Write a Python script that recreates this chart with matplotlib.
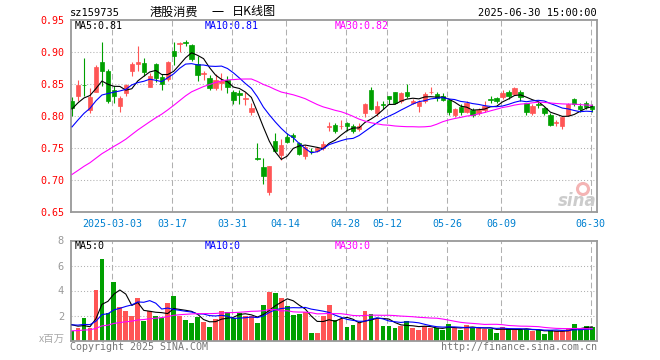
import numpy as np
import pandas as pd
import matplotlib
matplotlib.use("Agg")
import matplotlib.pyplot as plt
import matplotlib.patches as mpatches

# trading calendar (Shenzhen), holidays removed
holidays = ["2025-04-04", "2025-05-01", "2025-05-02", "2025-05-05", "2025-06-02"]
days = pd.bdate_range("2025-02-20", "2025-06-30")
days = days[~days.isin(pd.to_datetime(holidays))]

tick_dates = ["2025-03-03", "2025-03-17", "2025-03-31", "2025-04-14", "2025-04-28",
              "2025-05-12", "2025-05-26", "2025-06-09", "2025-06-30"]
tick_labels = ["2025-03-03", "03-17", "03-31", "04-14", "04-28",
               "05-12", "05-26", "06-09", "06-30"]

# daily prices
opens = [0.824, 0.832, 0.849, 0.810, 0.838, 0.885, 0.870, 0.840, 0.815, 0.836,
         0.870, 0.881, 0.883, 0.846, 0.881, 0.861, 0.858, 0.901, 0.913, 0.915,
         0.911, 0.882, 0.865, 0.859, 0.843, 0.852, 0.856, 0.838, 0.836, 0.826,
         0.806, 0.734, 0.720, 0.682, 0.761, 0.739, 0.767, 0.770, 0.758, 0.738,
         0.746, 0.746, 0.750, 0.783, 0.786, 0.784, 0.789, 0.785, 0.779, 0.805,
         0.840, 0.805, 0.818, 0.832, 0.838, 0.823, 0.837, 0.820, 0.815, 0.824,
         0.837, 0.835, 0.831, 0.825, 0.802, 0.814, 0.807, 0.810, 0.804, 0.809,
         0.826, 0.828, 0.830, 0.837, 0.835, 0.838, 0.821, 0.804, 0.818, 0.812,
         0.802, 0.789, 0.785, 0.802, 0.827, 0.816, 0.820, 0.815]
highs = [0.829, 0.857, 0.890, 0.843, 0.879, 0.915, 0.873, 0.847, 0.832, 0.850,
         0.885, 0.910, 0.890, 0.867, 0.883, 0.866, 0.886, 0.915, 0.916, 0.918,
         0.912, 0.893, 0.870, 0.864, 0.865, 0.867, 0.863, 0.841, 0.841, 0.837,
         0.820, 0.758, 0.734, 0.722, 0.774, 0.764, 0.774, 0.774, 0.759, 0.755,
         0.750, 0.752, 0.761, 0.790, 0.789, 0.793, 0.791, 0.788, 0.789, 0.820,
         0.846, 0.823, 0.824, 0.832, 0.838, 0.837, 0.850, 0.827, 0.825, 0.837,
         0.845, 0.838, 0.836, 0.827, 0.812, 0.818, 0.823, 0.812, 0.812, 0.823,
         0.831, 0.829, 0.840, 0.840, 0.845, 0.840, 0.821, 0.818, 0.823, 0.814,
         0.805, 0.794, 0.799, 0.820, 0.828, 0.820, 0.823, 0.818]
lows = [0.800, 0.824, 0.832, 0.805, 0.837, 0.847, 0.821, 0.821, 0.806, 0.832,
        0.863, 0.870, 0.863, 0.845, 0.853, 0.840, 0.855, 0.879, 0.900, 0.909,
        0.886, 0.855, 0.857, 0.840, 0.841, 0.841, 0.836, 0.819, 0.819, 0.817,
        0.802, 0.732, 0.693, 0.677, 0.743, 0.732, 0.758, 0.760, 0.739, 0.733,
        0.741, 0.743, 0.747, 0.776, 0.773, 0.779, 0.776, 0.773, 0.776, 0.799,
        0.810, 0.800, 0.811, 0.818, 0.819, 0.820, 0.828, 0.818, 0.807, 0.821,
        0.835, 0.824, 0.823, 0.802, 0.799, 0.802, 0.805, 0.799, 0.802, 0.806,
        0.820, 0.820, 0.827, 0.827, 0.833, 0.824, 0.802, 0.802, 0.812, 0.802,
        0.784, 0.785, 0.779, 0.800, 0.815, 0.806, 0.811, 0.807]
closes = [0.812, 0.848, 0.848, 0.829, 0.877, 0.871, 0.823, 0.832, 0.828, 0.848,
          0.882, 0.884, 0.868, 0.862, 0.860, 0.850, 0.884, 0.893, 0.914, 0.914,
          0.889, 0.864, 0.867, 0.844, 0.856, 0.855, 0.846, 0.825, 0.833, 0.828,
          0.813, 0.733, 0.707, 0.722, 0.745, 0.754, 0.759, 0.767, 0.741, 0.752,
          0.745, 0.750, 0.756, 0.784, 0.776, 0.785, 0.785, 0.776, 0.785, 0.819,
          0.811, 0.816, 0.817, 0.827, 0.820, 0.836, 0.832, 0.824, 0.822, 0.835,
          0.838, 0.828, 0.825, 0.806, 0.811, 0.807, 0.820, 0.802, 0.809, 0.816,
          0.825, 0.824, 0.836, 0.832, 0.843, 0.830, 0.806, 0.816, 0.817, 0.805,
          0.786, 0.790, 0.799, 0.818, 0.819, 0.811, 0.814, 0.811]
# volume, millions
volumes = [0.77, 1.03, 1.83, 1.03, 4.04, 6.52, 2.23, 4.71, 2.71, 2.39,
           1.99, 3.40, 1.56, 2.36, 1.99, 1.83, 3.03, 3.59, 1.99, 1.64,
           1.40, 1.88, 1.48, 1.08, 1.70, 2.39, 2.28, 1.83, 2.23, 1.96,
           1.96, 1.40, 2.84, 3.88, 3.80, 3.40, 2.76, 2.04, 2.12, 2.28,
           0.60, 0.60, 1.99, 2.84, 1.64, 1.70, 1.08, 1.24, 1.40, 2.36,
           2.12, 1.77, 1.16, 1.16, 1.00, 1.16, 1.56, 1.00, 0.84, 1.16,
           1.00, 1.00, 0.84, 1.32, 1.00, 0.84, 1.24, 1.00, 1.00, 0.92,
           0.92, 0.60, 1.08, 0.92, 0.92, 0.84, 0.92, 0.76, 0.84, 0.52,
           0.84, 0.76, 0.76, 1.00, 1.32, 0.92, 1.16, 1.08]

# sessions before the window, estimated so the moving averages start where they do
prior_close = [0.660, 0.655, 0.660, 0.665, 0.660, 0.655, 0.660, 0.665, 0.670, 0.665,
               0.670, 0.675, 0.670, 0.675, 0.680, 0.685, 0.680, 0.690, 0.690, 0.700,
               0.740, 0.745, 0.750, 0.760, 0.780, 0.800, 0.810, 0.810, 0.823]
prior_volume = [0.50, 0.55, 0.50, 0.60, 0.50, 0.55, 0.50, 0.55, 0.60, 0.50,
                0.55, 0.50, 0.55, 0.60, 0.50, 0.55, 0.55, 0.50, 0.60, 0.55,
                1.20, 1.30, 1.20, 1.30, 1.20, 1.60, 1.60, 1.49, 0.84]

RED = "#ff5555"
GREEN = "#00a000"
GRID = "#b0b0b0"
FRAME = "#999999"
MONO = "DejaVu Sans Mono"
CJK = ["Noto Sans CJK SC", "DejaVu Sans"]

n = len(closes)
x = np.arange(n)
o = np.array(opens)
c = np.array(closes)
up = c >= o
colors = [RED if u else GREEN for u in up]

close_all = pd.Series(prior_close + closes)
vol_all = pd.Series(prior_volume + volumes)
ma_price = {w: close_all.rolling(w).mean().values[-n:] for w in (5, 10, 30)}
ma_vol = {w: vol_all.rolling(w).mean().values[-n:] for w in (5, 10, 30)}
ma_colors = {5: "black", 10: "#0000ff", 30: "#ff00ff"}

tick_pos = [int(np.where(days == pd.Timestamp(d))[0][0]) for d in tick_dates]

W, H = 660, 360
fig = plt.figure(figsize=(W / 100, H / 100), dpi=100)
ax = fig.add_axes([71 / W, 1 - 212 / H, 526 / W, 192 / H])
axv = fig.add_axes([71 / W, 1 - 340.5 / H, 526 / W, 100 / H])

for a in (ax, axv):
    a.set_xlim(-0.17, 87.8)
    for s in a.spines.values():
        s.set_color(FRAME)
        s.set_linewidth(1.3)
    for p in tick_pos:
        a.axvline(p - 0.25, color=GRID, lw=0.75, ls=(0, (5.5, 3)), zorder=0)
    a.tick_params(length=0)

# price panel
ax.set_ylim(0.65, 0.95)
for lv in [0.70, 0.75, 0.80, 0.85, 0.90]:
    ax.axhline(lv, color=GRID, lw=0.75, ls=(0, (1, 2)), zorder=0)
ax.vlines(x, lows, highs, colors=colors, lw=0.8, zorder=2)
ax.bar(x, np.abs(c - o), bottom=np.minimum(o, c), width=0.72, color=colors,
       edgecolor=colors, linewidth=0.5, zorder=3)
for w in (5, 10, 30):
    ax.plot(x, ma_price[w], color=ma_colors[w], lw=0.8, zorder=4)
ax.set_yticks([0.65, 0.70, 0.75, 0.80, 0.85, 0.90, 0.95])
ax.set_yticklabels(["%.2f" % v for v in ax.get_yticks()], color="red",
                   fontsize=7.2, family=MONO)
ax.tick_params(axis="y", pad=5)
ax.set_xticks([p - 0.25 for p in tick_pos])
ax.set_xticklabels(tick_labels, color="#0080d0", fontsize=7.2, family=MONO)
ax.tick_params(axis="x", pad=5)

# volume panel
axv.set_ylim(0, 8)
for lv in [2, 4, 6]:
    axv.axhline(lv, color=GRID, lw=0.75, ls=(0, (1, 2)), zorder=0)
axv.bar(x, volumes, width=0.8, color=colors, linewidth=0, zorder=2)
for w in (5, 10, 30):
    axv.plot(x, ma_vol[w], color=ma_colors[w], lw=0.8, zorder=4)
axv.set_xticks([])
axv.set_yticks([2, 4, 6, 8])
axv.set_yticklabels(["2", "4", "6", "8"], color="#999999", fontsize=7.5, family=MONO)
axv.tick_params(axis="y", pad=5)


def put(px, py, s, **kw):
    kw.setdefault("family", MONO)
    kw.setdefault("fontsize", 7.2)
    kw.setdefault("va", "center")
    fig.text(px / W, 1 - py / H, s, **kw)


put(70, 13, "sz159735", color="black", fontsize=7.5)
put(150, 12, "港股消费", color="black", fontsize=8.7, family=CJK)
put(212, 12, "一", color="black", fontsize=8.7, family=CJK)
put(232, 12, "日K线图", color="black", fontsize=8.7, family=CJK)
put(597, 13, "2025-06-30 15:00:00", color="black", fontsize=7.5, ha="right")
put(75, 26, "MA5:0.81", color="black")
put(205, 26, "MA10:0.81", color="#0000ff")
put(335, 26, "MA30:0.82", color="#ff00ff")
put(75, 246, "MA5:0", color="black")
put(205, 246, "MA10:0", color="#0000ff")
put(335, 246, "MA30:0", color="#ff00ff")
put(65, 339, "x百万", color="#aaaaaa", fontsize=7.5, family=CJK, ha="right")
put(70, 347, "Copyright 2025 SINA.COM", color="#777777", fontsize=7.2)
put(597, 347, "http://finance.sina.com.cn", color="#777777", fontsize=7.2, ha="right")

# sina watermark
put(577, 201, "sina", color="#cccccc", fontsize=12, family="DejaVu Sans",
    style="italic", weight="bold", ha="center")
fig.patches.append(mpatches.Circle((583 / 100, (H - 189) / 100), 0.055,
                                   transform=fig.dpi_scale_trans, fill=False,
                                   edgecolor="#f4b4b4", lw=2.2))

fig.savefig("out.png", dpi=100)
